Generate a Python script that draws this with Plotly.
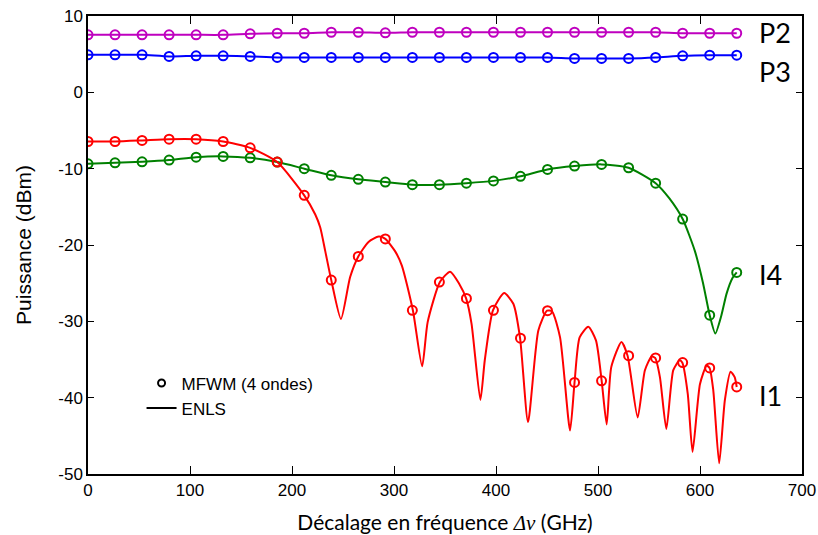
import plotly.graph_objects as go

# ---- data ----
freq = [26.5 * k for k in range(25)]  # GHz, MFWM sample points

p2_mfwm = [7.53, 7.53, 7.53, 7.53, 7.53, 7.53, 7.66, 7.74, 7.74, 7.87, 7.87, 7.80, 7.87,
           7.87, 7.87, 7.87, 7.87, 7.87, 7.87, 7.87, 7.87, 7.87, 7.74, 7.74, 7.74]
p3_mfwm = [4.92, 4.92, 4.92, 4.70, 4.79, 4.79, 4.70, 4.57, 4.57, 4.57, 4.57, 4.57, 4.57,
           4.57, 4.57, 4.57, 4.57, 4.57, 4.44, 4.44, 4.44, 4.57, 4.79, 4.87, 4.87]
i1_mfwm = [-6.44, -6.44, -6.30, -6.14, -6.14, -6.44, -7.27, -9.14, -13.49, -24.6, -21.5, -19.2,
           -28.55, -24.85, -27.0, -28.55, -32.2, -28.6, -38.0, -37.8, -34.5, -34.8, -35.4, -36.1, -38.6]
i4_mfwm = [-9.36, -9.23, -9.10, -8.88, -8.49, -8.39, -8.58, -9.14, -10.0, -10.87, -11.4, -11.75,
           -12.1, -12.1, -11.9, -11.6, -11.0, -10.1, -9.66, -9.44, -9.88, -11.9, -16.6, -29.2, -23.6]

# ENLS curves
p2_enls_x = freq
p2_enls_y = p2_mfwm
p3_enls_x = freq
p3_enls_y = p3_mfwm

i4_enls_x = [0, 26.5, 53, 79.5, 106, 132.5, 159, 185.5, 212, 238.5, 265, 291.5, 318, 344.5,
             371, 397.5, 424, 450.5, 477, 503.5, 530, 556.5, 570, 583, 595, 603, 609.5, 615,
             621, 626, 632, 636]
i4_enls_y = [-9.36, -9.23, -9.10, -8.88, -8.49, -8.39, -8.58, -9.14, -10.0, -10.87, -11.4, -11.75,
             -12.1, -12.1, -11.9, -11.6, -11.0, -10.1, -9.66, -9.44, -9.88, -11.9, -13.9, -16.6,
             -20.8, -25.0, -29.2, -31.6, -29.2, -26.4, -24.3, -23.6]

i1_enls_x = [0, 26.5, 53, 79.5, 106, 132.5, 159, 185.5, 212, 222.8, 227.7, 232.6, 238.5, 248,
             257, 265, 275, 285, 291.5, 301, 307.7, 318.5, 327.6, 333, 345, 355, 364, 370.7,
             376, 384.7, 389, 397, 408, 417, 423.6, 431.4, 441.5, 450, 455, 462.8, 472.6, 477,
             482, 490.5, 498, 503.6, 508.5, 513, 523, 529, 538.9, 546, 552.6, 556, 560.7, 567,
             573.8, 580, 582.6, 588, 592.7, 600, 606.5, 609.4, 613, 618.8, 624.4, 630, 634, 636]
i1_enls_y = [-6.44, -6.44, -6.30, -6.14, -6.14, -6.44, -7.27, -9.14, -13.49, -16.0, -17.7, -20.8,
             -24.6, -29.7, -24.2, -21.5, -19.6, -18.9, -19.2, -20.8, -22.7, -28.55, -35.9, -30.1,
             -24.85, -23.5, -25.1, -27.0, -30.3, -40.3, -35.1, -28.55, -26.3, -27.7, -32.2, -43.2,
             -31.2, -28.6, -28.7, -32.1, -44.3, -38.0, -32.1, -30.7, -32.5, -37.8, -43.5, -36.0,
             -32.7, -34.5, -42.6, -36.4, -34.6, -34.8, -37.3, -44.1, -36.4, -35.1, -35.4, -39.5,
             -47.1, -38.2, -35.8, -36.1, -39.0, -48.6, -40.3, -36.6, -37.3, -38.6]

series_names = ["P2", "P3", "I4", "I1"]
series_colors = ["#bf00bf", "#0000ff", "#008000", "#ff0000"]
label_y = [7.8, 2.7, -23.8, -39.7]
label_x = 656
legend_labels = ["MFWM (4 ondes)", "ENLS"]
x_ticks = [0, 100, 200, 300, 400, 500, 600, 700]
y_ticks = [-50, -40, -30, -20, -10, 0, 10]
y_ticktext = ["-50", "-40", "-30", "-20", "-10", "0", "10"]

enls = [(p2_enls_x, p2_enls_y), (p3_enls_x, p3_enls_y), (i4_enls_x, i4_enls_y), (i1_enls_x, i1_enls_y)]
mfwm = [p2_mfwm, p3_mfwm, i4_mfwm, i1_mfwm]

fig = go.Figure()
for (ex, ey), my, name, col in zip(enls, mfwm, series_names, series_colors):
    fig.add_trace(go.Scatter(x=ex, y=ey, mode="lines", line=dict(color=col, width=2, shape="spline", smoothing=0.6),
                             showlegend=False, hoverinfo="skip"))
    fig.add_trace(go.Scatter(x=freq, y=my, mode="markers",
                             marker=dict(symbol="circle-open", size=9, color=col, line=dict(width=2, color=col)),
                             showlegend=False, hoverinfo="skip"))

# legend entries
fig.add_trace(go.Scatter(x=[None], y=[None], mode="markers", name=legend_labels[0],
                         marker=dict(symbol="circle-open", size=7, color="black", line=dict(width=2, color="black"))))
fig.add_trace(go.Scatter(x=[None], y=[None], mode="lines", name=legend_labels[1],
                         line=dict(color="black", width=2)))

for name, ly in zip(series_names, label_y):
    fig.add_annotation(x=label_x, y=ly, text=name, showarrow=False, xanchor="left", yanchor="middle",
                       font=dict(family="Lato, Open Sans, sans-serif", size=27, color="black"))

axis_font = dict(family="Liberation Sans, Arial, sans-serif", size=17, color="black")
fig.update_xaxes(range=[0, 700], tickvals=x_ticks, ticks="inside", ticklen=8, tickwidth=1.2, tickcolor="black",
                 showline=True, linecolor="black", linewidth=1.5, mirror="ticks", showgrid=False, zeroline=False,
                 tickfont=axis_font, automargin=False,
                 title=dict(text="Décalage en fréquence <span style='font-family:Liberation Serif'><i>Δν</i></span> (GHz)",
                            font=dict(family="Lato, Open Sans, sans-serif", size=21, color="black"), standoff=17))
fig.update_yaxes(range=[-50, 10], tickvals=y_ticks, ticktext=y_ticktext, ticks="inside", ticklen=6, tickwidth=1.2,
                 tickcolor="black",
                 showline=True, linecolor="black", linewidth=1.5, mirror="ticks", showgrid=False, zeroline=False,
                 tickfont=axis_font, automargin=False,
                 title=dict(text="Puissance (dBm)", font=dict(family="Liberation Sans, Arial, sans-serif", size=21, color="black"),
                            standoff=21))

fig.update_layout(
    width=818, height=535,
    margin=dict(l=88, r=16, t=16, b=61, pad=0),
    paper_bgcolor="white", plot_bgcolor="white",
    showlegend=True,
    legend=dict(x=0.075, y=0.237, xanchor="left", yanchor="top", bgcolor="rgba(0,0,0,0)",
                font=dict(family="Liberation Sans, Arial, sans-serif", size=17, color="black")),
    hovermode=False,
)

fig.write_html("out.html", config={"displayModeBar": False},
               post_script="document.body.style.margin='0';document.body.style.overflow='hidden';")
